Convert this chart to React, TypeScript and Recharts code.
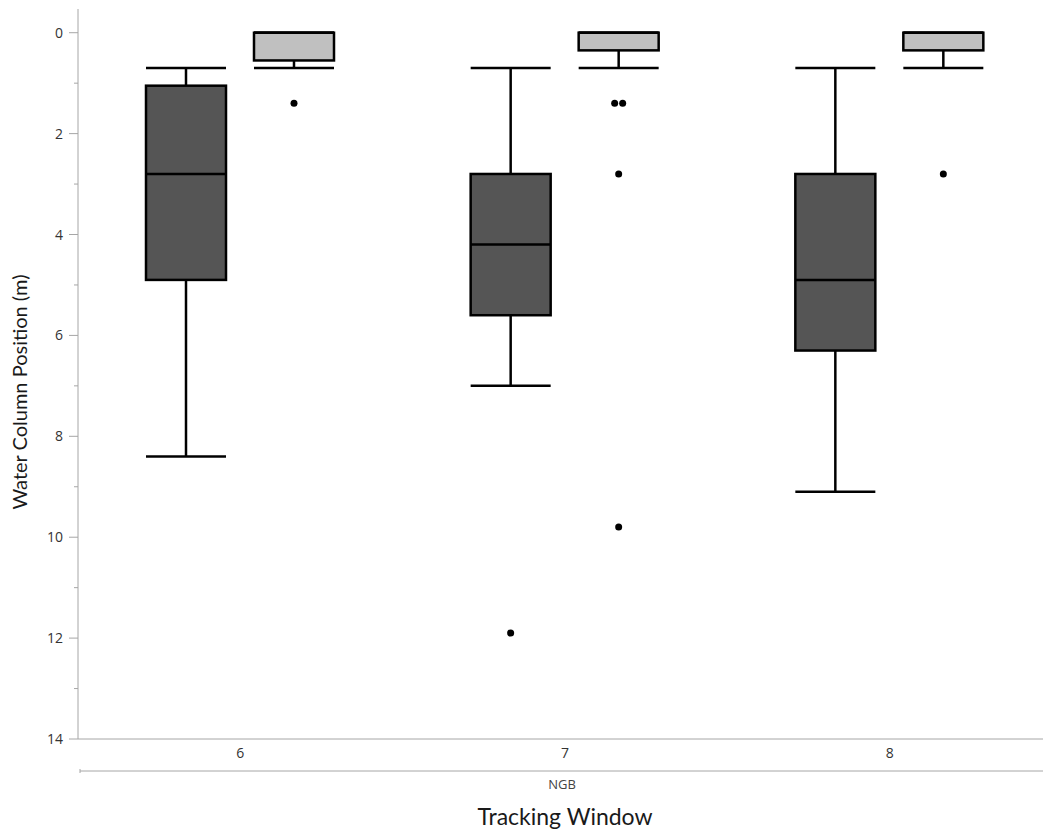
import { ComposedChart, Bar, XAxis, YAxis } from "recharts";

// Tracking windows (x categories)
const windows = ["6", "7", "8"];

// dark boxes (first series in each window), metres below surface
const darkLow = [0.7, 0.7, 0.7];
const darkQ1 = [1.05, 2.8, 2.8];
const darkMedian = [2.8, 4.2, 4.9];
const darkQ3 = [4.9, 5.6, 6.3];
const darkHigh = [8.4, 7.0, 9.1];
const darkOutliers: number[][] = [[], [11.9], []];

// light boxes (second series)
const lightLow = [0, 0, 0];
const lightQ1 = [0, 0, 0];
const lightMedian = [0, 0, 0];
const lightQ3 = [0.55, 0.35, 0.35];
const lightHigh = [0.7, 0.7, 0.7];
const lightOutliers: number[][] = [[1.4], [1.4, 1.4, 2.8, 9.8], [2.8]];

const yTicks = [0, 1, 2, 3, 4, 5, 6, 7, 8, 9, 10, 11, 12, 13, 14];

const AXIS = "#a6a6a6";
const TEXT = "#333";

type Stats = { low: number; q1: number; median: number; q3: number; high: number; outliers: number[] };

const stats = (i: number, low: number[], q1: number[], med: number[], q3: number[], high: number[], out: number[][]): Stats => ({
  low: low[i],
  q1: q1[i],
  median: med[i],
  q3: q3[i],
  high: high[i],
  outliers: out[i],
});

const span = (s: Stats): [number, number] => [
  Math.min(s.low, ...s.outliers),
  Math.max(s.high, ...s.outliers),
];

const data = windows.map((w, i) => {
  const dark = stats(i, darkLow, darkQ1, darkMedian, darkQ3, darkHigh, darkOutliers);
  const light = stats(i, lightLow, lightQ1, lightMedian, lightQ3, lightHigh, lightOutliers);
  return { window: w, dark, light, darkSpan: span(dark), lightSpan: span(light) };
});

function makeBoxShape(key: "dark" | "light", fill: string) {
  return (props: any) => {
    const { x, y, width, height, payload } = props;
    const s: Stats = payload[key];
    const [lo, hi] = span(s);
    const top = Math.min(y, y + height);
    const bottom = Math.max(y, y + height);
    // linear mapping taken from the bar's own scaled extent (axis is reversed)
    const py = (v: number) => (hi === lo ? top : top + ((v - lo) / (hi - lo)) * (bottom - top));
    const cx = x + width / 2;
    const seen: Record<string, number> = {};
    return (
      <g>
        <line x1={cx} x2={cx} y1={py(s.low)} y2={py(s.q1)} stroke="#000" strokeWidth={2.5} />
        <line x1={cx} x2={cx} y1={py(s.q3)} y2={py(s.high)} stroke="#000" strokeWidth={2.5} />
        <line x1={x} x2={x + width} y1={py(s.low)} y2={py(s.low)} stroke="#000" strokeWidth={2.5} />
        <line x1={x} x2={x + width} y1={py(s.high)} y2={py(s.high)} stroke="#000" strokeWidth={2.5} />
        <rect x={x} y={py(s.q1)} width={width} height={py(s.q3) - py(s.q1)} fill={fill} stroke="#000" strokeWidth={2.5} />
        <line x1={x} x2={x + width} y1={py(s.median)} y2={py(s.median)} stroke="#000" strokeWidth={2.5} />
        {s.outliers.map((v, i) => {
          const count = s.outliers.filter((o) => o === v).length;
          const n = seen[v] ?? 0;
          seen[v] = n + 1;
          const dx = count > 1 ? (n - (count - 1) / 2) * 8 : 0;
          return <circle key={i} cx={cx + dx} cy={py(v)} r={3.5} fill="#000" />;
        })}
      </g>
    );
  };
}

const YTick = (props: any) => {
  const { x, y, payload } = props;
  const major = payload.value % 2 === 0;
  return (
    <g>
      <line x1={x - (major ? 9 : 4)} x2={x} y1={y} y2={y} stroke={AXIS} strokeWidth={1} />
      {major && (
        <text x={x - 15} y={y} dy={5} textAnchor="end" fontSize={14} fill={TEXT} fontFamily="'Open Sans', sans-serif">
          {payload.value}
        </text>
      )}
    </g>
  );
};

const XAxisExtras = (props: any) => {
  const { x, y, width } = props.viewBox;
  return (
    <g>
      <line x1={x + 2} x2={x + width} y1={y + 32} y2={y + 32} stroke={AXIS} strokeWidth={1} />
      <line x1={x + 2} x2={x + 2} y1={y + 30} y2={y + 34} stroke={AXIS} strokeWidth={1} />
      <text x={x + width / 2 - 3} y={y + 50} textAnchor="middle" fontSize={13} fill="#444" fontFamily="'Open Sans', sans-serif">
        NGB
      </text>
      <text x={x + width / 2} y={y + 86} textAnchor="middle" fontSize={23} fill="#1a1a1a" fontFamily="Lato, sans-serif">
        Tracking Window
      </text>
    </g>
  );
};

const YLabel = () => (
  <text x={27} y={392} transform="rotate(-90, 27, 392)" textAnchor="middle" fontSize={20} fill="#1a1a1a" fontFamily="Lato, sans-serif">
    Water Column Position (m)
  </text>
);

export default function App() {
  return (
    <div style={{ position: "absolute", left: 0, top: 0, width: 1043, height: 834, overflow: "hidden", background: "#fff" }}>
      <ComposedChart
        width={1052}
        height={834}
        data={data}
        margin={{ top: 9, right: 0, bottom: 0, left: 0 }}
        barGap={28}
      >
        <XAxis
          dataKey="window"
          height={95}
          stroke={AXIS}
          tickLine={false}
          tickSize={0}
          tickMargin={9}
          tick={{ fontSize: 14, fill: TEXT, fontFamily: "'Open Sans', sans-serif" }}
          label={{ content: XAxisExtras }}
        />
        <XAxis xAxisId="top" dataKey="window" orientation="top" height={0} stroke={AXIS} tick={false} tickLine={false} />
        <YAxis
          type="number"
          reversed
          domain={[-0.47, 14]}
          allowDataOverflow
          ticks={yTicks}
          interval={0}
          width={78}
          stroke={AXIS}
          tickLine={false}
          tickSize={0}
          tickMargin={0}
          tick={YTick}
          label={{ content: YLabel }}
        />
        <Bar dataKey={(r: any) => r.darkSpan} barSize={80} shape={makeBoxShape("dark", "#555555")} isAnimationActive={false} />
        <Bar dataKey={(r: any) => r.lightSpan} barSize={80} shape={makeBoxShape("light", "#c0c0c0")} isAnimationActive={false} />
      </ComposedChart>
    </div>
  );
}
